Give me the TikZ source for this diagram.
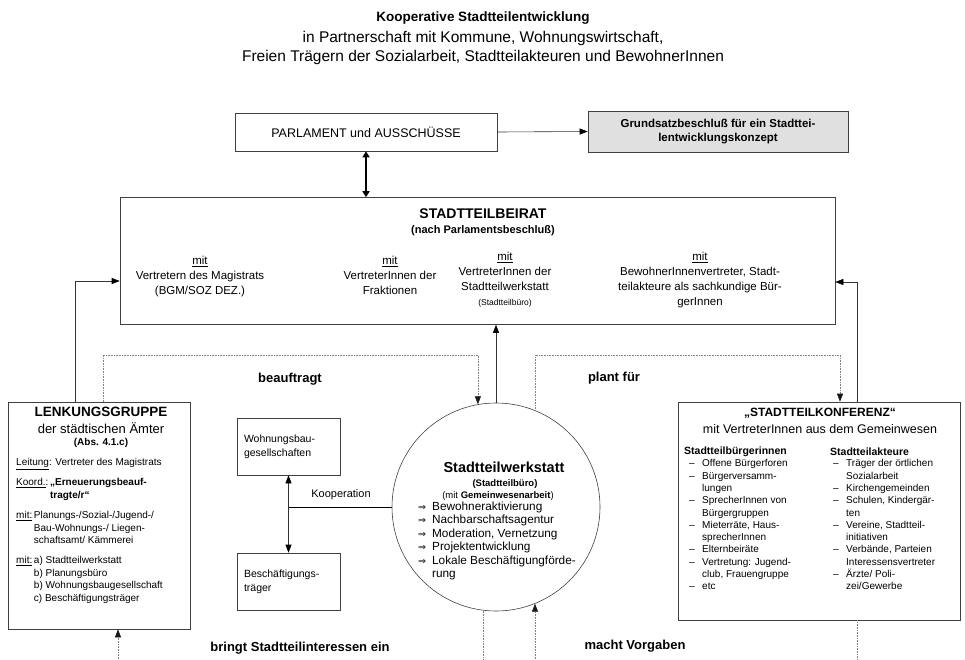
\documentclass[tikz,border=0pt]{standalone}
\usepackage{fontspec}
\setmainfont{Liberation Sans}
\newfontfamily\dejavu{DejaVu Sans}
\newcommand\myimpl{{\dejavu\fontsize{9.5}{10}\selectfont ⇒}}
\usetikzlibrary{arrows.meta,calc}
\begin{document}
\begin{tikzpicture}[x=1pt,y=-1pt,
  box/.style={draw=black!75, line width=0.6pt},
  arr/.style={draw=black!80, line width=0.6pt, -{Triangle[length=8pt,width=6pt,color=black]}},
  darr/.style={draw=black!80, line width=0.6pt, {Triangle[length=8pt,width=6pt,color=black]}-{Triangle[length=8pt,width=6pt,color=black]}},
  thickarr/.style={draw=black, line width=2.2pt, {Triangle[length=6pt,width=7pt]}-{Triangle[length=6pt,width=7pt]}},
  dotline/.style={draw=black!50, line width=0.6pt, densely dotted},
  dotarr/.style={dotline, -{Triangle[length=8pt,width=6pt,color=black!90]}},
  lbl/.style={font=\bfseries\fontsize{13}{15}\selectfont, inner sep=0pt},
  col/.style={align=center, inner sep=0pt, anchor=north, font=\fontsize{11.5}{15}\selectfont},
  lk/.style={anchor=north west, inner sep=0pt, font=\fontsize{10}{12.5}\selectfont},
  kcol/.style={anchor=north west, inner sep=0pt, font=\fontsize{10}{12.3}\selectfont},
]
\useasboundingbox (0,0) rectangle (965,659);

% title
\node[font=\bfseries\fontsize{13.5}{15}\selectfont] (t1) at (483,18) {Kooperative Stadtteilentwicklung};
\node[font=\fontsize{15.5}{17}\selectfont] (t2) at (483,38) {in Partnerschaft mit Kommune, Wohnungswirtschaft,};
\node[font=\fontsize{15.5}{17}\selectfont] (t3) at (483,57) {Freien Trägern der Sozialarbeit, Stadtteilakteuren und BewohnerInnen};

% parliament
\node[box, minimum width=262pt, minimum height=38pt, font=\fontsize{12.5}{14}\selectfont] (parl) at (366,132) {PARLAMENT und AUSSCHÜSSE};
\node[box, fill=black!12, minimum width=260pt, minimum height=41pt, align=center, font=\bfseries\fontsize{11.5}{14}\selectfont] (grund) at (718,131.5) {Grundsatzbeschluß für ein Stadttei-\\lentwicklungskonzept};
\draw[arr] (parl.east) -- (grund.west);

% Beirat
\node[box, minimum width=715pt, minimum height=127pt] (beirat) at (477.5,261) {};
\node[font=\bfseries\fontsize{14}{16}\selectfont] (bt) at (483,214) {STADTTEILBEIRAT};
\node[font=\bfseries\fontsize{11}{13}\selectfont] (bs) at (483,231) {(nach Parlamentsbeschluß)};
\node[col] (c1) at (200,256) {\underline{mit}\\Vertretern des Magistrats\\(BGM/SOZ DEZ.)};
\node[col] (c2) at (390,256) {\underline{mit}\\VertreterInnen der\\Fraktionen};
\node[col] (c3) at (505,252) {\underline{mit}\\VertreterInnen der\\Stadtteilwerkstatt\\{\fontsize{8.5}{10}\selectfont(Stadtteilbüro)}};
\node[col] (c4) at (700,252) {\underline{mit}\\BewohnerInnenvertreter, Stadt-\\teilakteure als sachkundige Bür-\\gerInnen};
\draw[thickarr] (parl.south) -- (parl.south |- beirat.north);

% Lenkungsgruppe
\node[box, minimum width=182pt, minimum height=227pt] (lenk) at (99,515.5) {};
\node[font=\bfseries\fontsize{13.5}{15}\selectfont] (lh1) at (101,412) {LENKUNGSGRUPPE};
\node[font=\fontsize{13}{15}\selectfont] (lh2) at (101,428) {der städtischen Ämter};
\node[font=\bfseries\fontsize{10}{11}\selectfont] (lh3) at (101,443) {(Abs. 4.1.c)};
\node[lk] (lb1) at (16,457) {\begin{tabular}{@{}l@{}}\underline{Leitung}: Vertreter des Magistrats\end{tabular}};
\node[lk] (lb2) at (16,477) {\begin{tabular}{@{}l@{\,}l@{}}\underline{Koord.}: & \textbf{„Erneuerungsbeauf-}\\ & \textbf{tragte/r“}\end{tabular}};
\node[lk] (lb3) at (16,510) {\begin{tabular}{@{}l@{\,}l@{}}\underline{mit:} & Planungs-/Sozial-/Jugend-/\\ & Bau-Wohnungs-/ Liegen-\\ & schaftsamt/ Kämmerei\end{tabular}};
\node[lk] (lb4) at (16,555) {\begin{tabular}{@{}l@{\,}l@{}}\underline{mit:} & a) Stadtteilwerkstatt\\ & b) Planungsbüro\\ & b) Wohnungsbaugesellschaft\\ & c) Beschäftigungsträger\end{tabular}};

% small boxes
\node[box, minimum width=103pt, minimum height=57pt, text width=89pt, align=left, inner sep=0pt, font=\fontsize{10.5}{14}\selectfont] (wohn) at (288.5,446.5) {Wohnungsbau-\\gesellschaften};
\node[box, minimum width=103pt, minimum height=57pt, text width=89pt, align=left, inner sep=0pt, font=\fontsize{10.5}{14}\selectfont] (besch) at (288.5,581.5) {Beschäftigungs-\\träger};
\draw[darr] (wohn.south) -- (besch.north);
\node[font=\fontsize{11}{12}\selectfont] (koop) at (341,495) {Kooperation};

% circle
\node[draw=black!75, line width=0.6pt, circle, minimum size=208pt] (circ) at (496,507) {};
\node[font=\bfseries\fontsize{14.5}{16}\selectfont] (ct) at (504,467) {Stadtteilwerkstatt};
\node[font=\bfseries\fontsize{9.5}{10}\selectfont] (cs1) at (505,484) {(Stadtteilbüro)};
\node[font=\fontsize{9.5}{10}\selectfont] (cs2) at (498,496) {(mit \textbf{Gemeinwesenarbeit})};
\node[anchor=north west, inner sep=0pt, font=\fontsize{11.8}{13.4}\selectfont] (ci) at (418,501) {\begin{tabular}{@{}l@{\hspace{6pt}}l@{}}\myimpl & Bewohneraktivierung\\ \myimpl & Nachbarschaftsagentur\\ \myimpl & Moderation, Vernetzung\\ \myimpl & Projektentwicklung\\ \myimpl & Lokale Beschäftigungförde-\\ & rung\end{tabular}};
\draw (circ.west -| wohn.south) -- (circ.west);
\draw[arr] (circ.north) -- (circ.north |- beirat.south);

% Konferenz
\node[box, minimum width=282pt, minimum height=218pt] (konf) at (819,511) {};
\node[font=\bfseries\fontsize{12}{14}\selectfont] (kt) at (820,413) {„STADTTEILKONFERENZ“};
\node[font=\fontsize{12.5}{14}\selectfont] (ks) at (820,429) {mit VertreterInnen aus dem Gemeinwesen};
\node[anchor=west, inner sep=0pt, font=\bfseries\fontsize{10.5}{12}\selectfont] (kh1) at (684,452) {Stadtteilbürgerinnen};
\node[anchor=west, inner sep=0pt, font=\bfseries\fontsize{10.5}{12}\selectfont] (kh2) at (830,452) {Stadtteilakteure};
\node[kcol] (kl) at (689,458) {\begin{tabular}{@{}p{13pt}@{}l@{}}– & Offene Bürgerforen\\ – & Bürgerversamm-\\ & lungen\\ – & SprecherInnen von\\ & Bürgergruppen\\ – & Mieterräte, Haus-\\ & sprecherInnen\\ – & Elternbeiräte\\ – & Vertretung: Jugend-\\ & club, Frauengruppe\\ – & etc\end{tabular}};
\node[kcol] (kr) at (833,458) {\begin{tabular}{@{}p{13pt}@{}l@{}}– & Träger der örtlichen\\ & Sozialarbeit\\ – & Kirchengemeinden\\ – & Schulen, Kindergär-\\ & ten\\ – & Vereine, Stadtteil-\\ & initiativen\\ – & Verbände, Parteien\\ & Interessensvertreter\\ – & Ärzte/ Poli-\\ & zei/Gewerbe\end{tabular}};

% connectors to Beirat
\coordinate (rk) at (857,282);
\draw[arr] ([xshift=38pt]konf.north) -- (rk) -- (rk -| beirat.east);
\coordinate (lk1) at (75,281);
\draw[arr] ([xshift=-24pt]lenk.north) -- (lk1) -- (lk1 -| beirat.west);

% dotted connectors
\coordinate (b1) at (103,355);
\draw[dotarr] ([xshift=4pt]lenk.north) -- (b1) -- (b1 -| circ.100) -- (circ.100);
\coordinate (p1) at (0,355);
\draw[dotarr] (circ.68) -- (circ.68 |- p1) -| ([xshift=21pt]konf.north);

% bottom connectors
\coordinate (bot1) at (118,659);
\coordinate (bot2) at (535,659);
\draw[dotarr] (bot1) -- (bot1 |- lenk.south);
\draw[dotarr] (bot2) -- (bot2 |- circ.-68);
\draw[dotline] (circ.-97) -- (circ.-97 |- bot1);
\draw[dotline] ([xshift=38pt]konf.south) -- ([xshift=38pt]konf.south |- bot1);

% labels
\node[lbl] (l1) at (290,379) {beauftragt};
\node[lbl] (l2) at (614,378) {plant für};
\node[lbl] (l3) at (300,648) {bringt Stadtteilinteressen ein};
\node[lbl] (l4) at (635,646) {macht Vorgaben};
\end{tikzpicture}
\end{document}
